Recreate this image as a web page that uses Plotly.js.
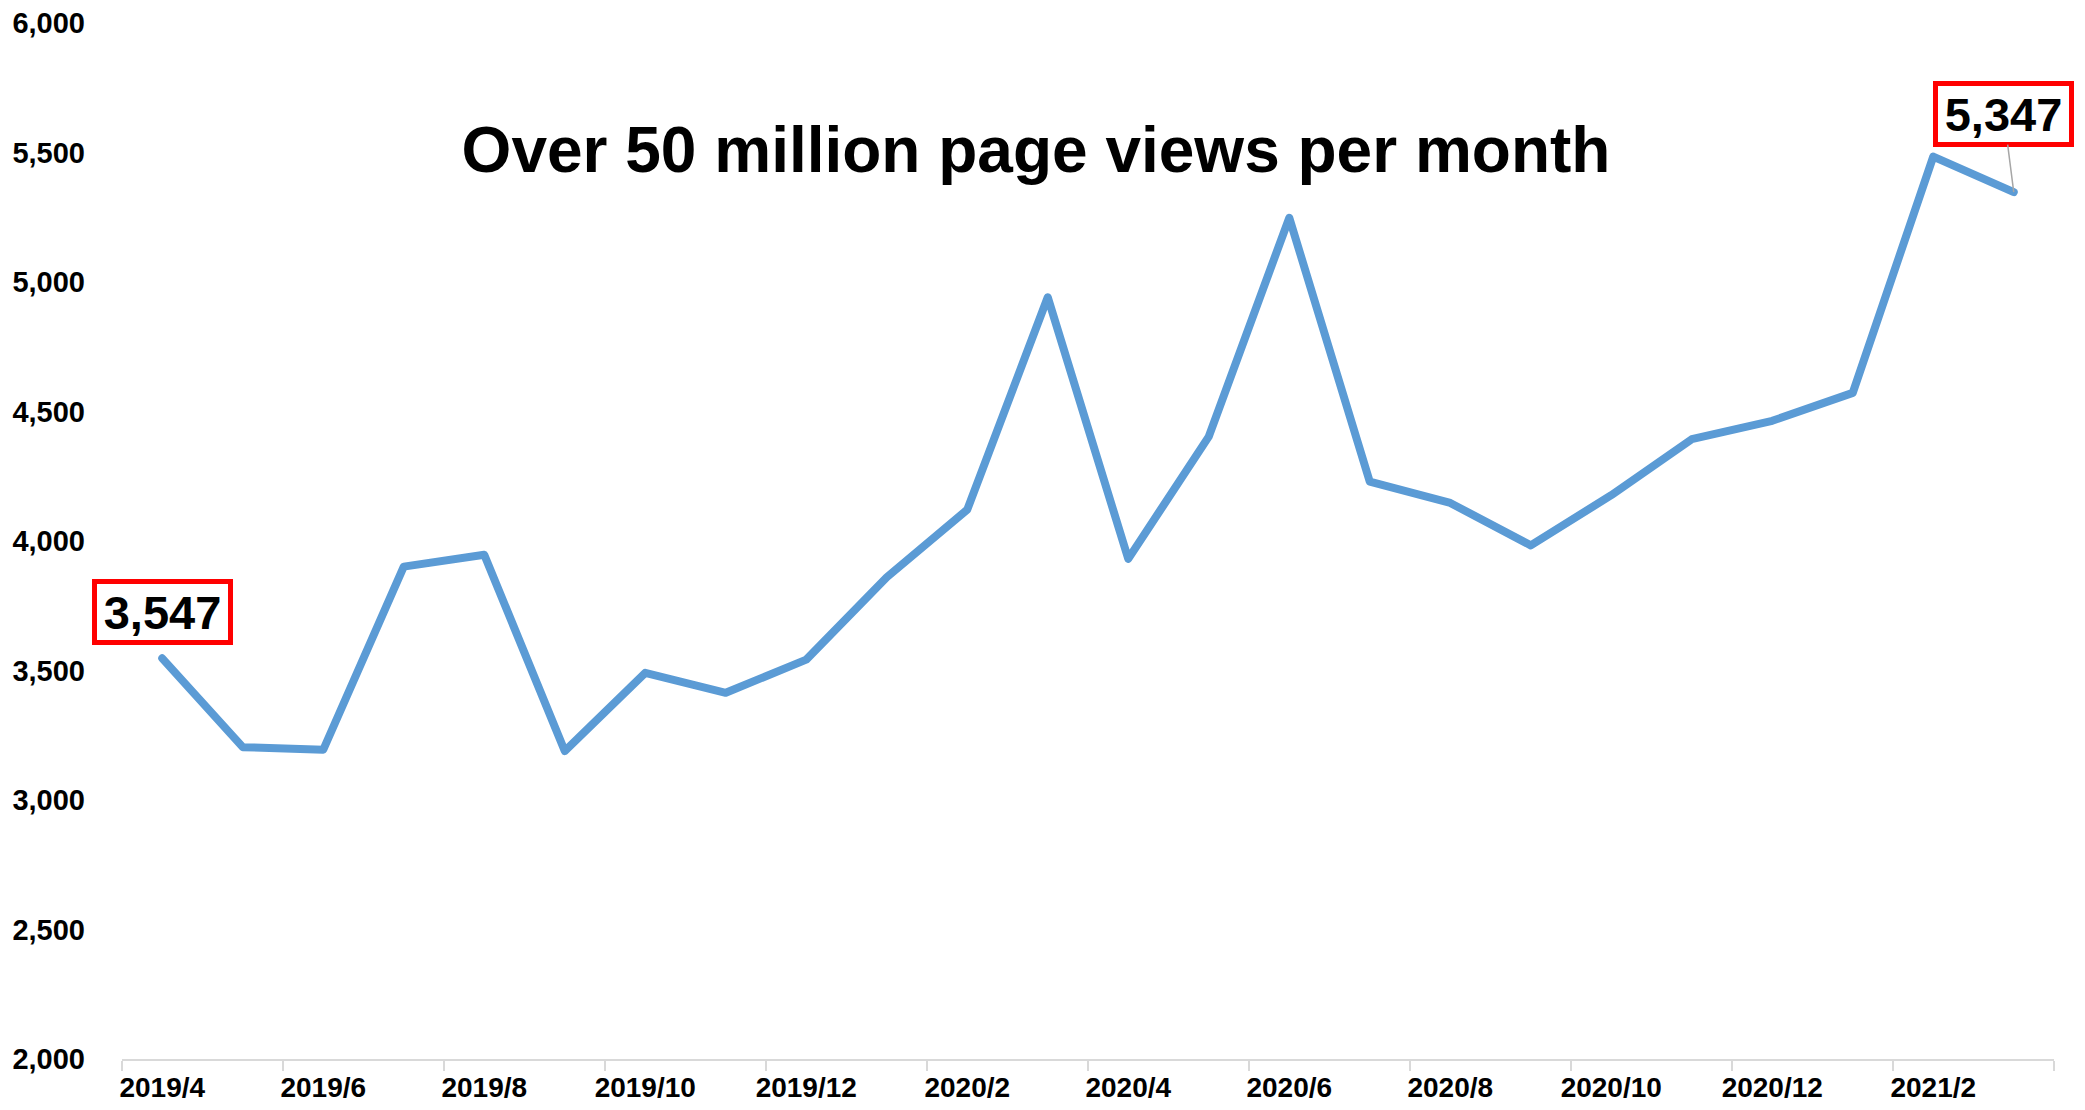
<!DOCTYPE html>
<html>
<head>
<meta charset="utf-8">
<script src="https://cdn.plot.ly/plotly-3.0.1.min.js"></script>
<style>html,body{margin:0;padding:0;background:#fff;}#chart{width:2085px;height:1110px;}
#chart .scatterlayer .js-line{stroke-linecap:round !important;stroke-linejoin:round !important;}</style>
</head>
<body>
<div id="chart"></div>
<script>
const months = ["2019/4","2019/5","2019/6","2019/7","2019/8","2019/9","2019/10","2019/11","2019/12",
  "2020/1","2020/2","2020/3","2020/4","2020/5","2020/6","2020/7","2020/8","2020/9","2020/10",
  "2020/11","2020/12","2021/1","2021/2","2021/3"];
const pageViews = [3547,3204,3194,3901,3947,3189,3491,3414,3542,3860,4121,4941,3931,4403,5248,
  4229,4147,3983,4177,4393,4464,4572,5484,5347];
const yTicks = [2000,2500,3000,3500,4000,4500,5000,5500,6000];
const titleText = "Over 50 million page views per month";

const FONT = "Liberation Sans, Arial, sans-serif";
const last = months.length - 1;
const fmt = v => v.toLocaleString("en-US");

const trace = {
  x: months, y: pageViews, type: "scatter", mode: "lines",
  line: {color: "#5b9bd5", width: 8},
  hoverinfo: "x+y"
};

const boxStyle = {
  font: {family: FONT, size: 47, weight: "bold", color: "#000"},
  bgcolor: "#fff", bordercolor: "#ff0000", borderwidth: 5, borderpad: 2,
  width: 127, height: 52
};

const layout = {
  width: 2085, height: 1110,
  margin: {l: 122, r: 31, t: 23, b: 51},
  paper_bgcolor: "#fff", plot_bgcolor: "#fff",
  showlegend: false,
  title: {text: titleText, x: 1036/2085, xanchor: "center", xref: "container",
    y: 1 - 150/1110, yanchor: "middle", yref: "container",
    font: {family: FONT, size: 64, weight: "bold", color: "#000"}},
  xaxis: {
    type: "category", range: [-0.5, last + 0.5],
    tickmode: "linear", tick0: 0, dtick: 2, tickson: "boundaries",
    ticks: "outside", ticklen: 10, tickwidth: 2, tickcolor: "#d9d9d9",
    showline: true, linecolor: "#d9d9d9", linewidth: 2,
    showgrid: false, zeroline: false, tickangle: 0,
    tickfont: {family: FONT, size: 28, weight: "bold", color: "#000"},
    ticklabelstandoff: 2
  },
  yaxis: {
    range: [2000, 6000], tickvals: yTicks, ticktext: yTicks.map(fmt),
    showline: false, showgrid: false, zeroline: false, ticks: "",
    tickfont: {family: FONT, size: 29, weight: "bold", color: "#000"},
    ticklabelstandoff: 36
  },
  annotations: [
    Object.assign({x: months[0], y: pageViews[0], xref: "x", yref: "y", text: fmt(pageViews[0]),
     showarrow: false, yshift: 46}, boxStyle),
    Object.assign({x: months[last], y: pageViews[last], xref: "x", yref: "y", text: fmt(pageViews[last]),
     showarrow: true, arrowhead: 0, arrowwidth: 1.5, arrowcolor: "#a6a6a6",
     ax: -10, ay: -78, standoff: 0}, boxStyle)
  ]
};

Plotly.newPlot("chart", [trace], layout, {displayModeBar: false, staticPlot: true});
</script>
</body>
</html>
